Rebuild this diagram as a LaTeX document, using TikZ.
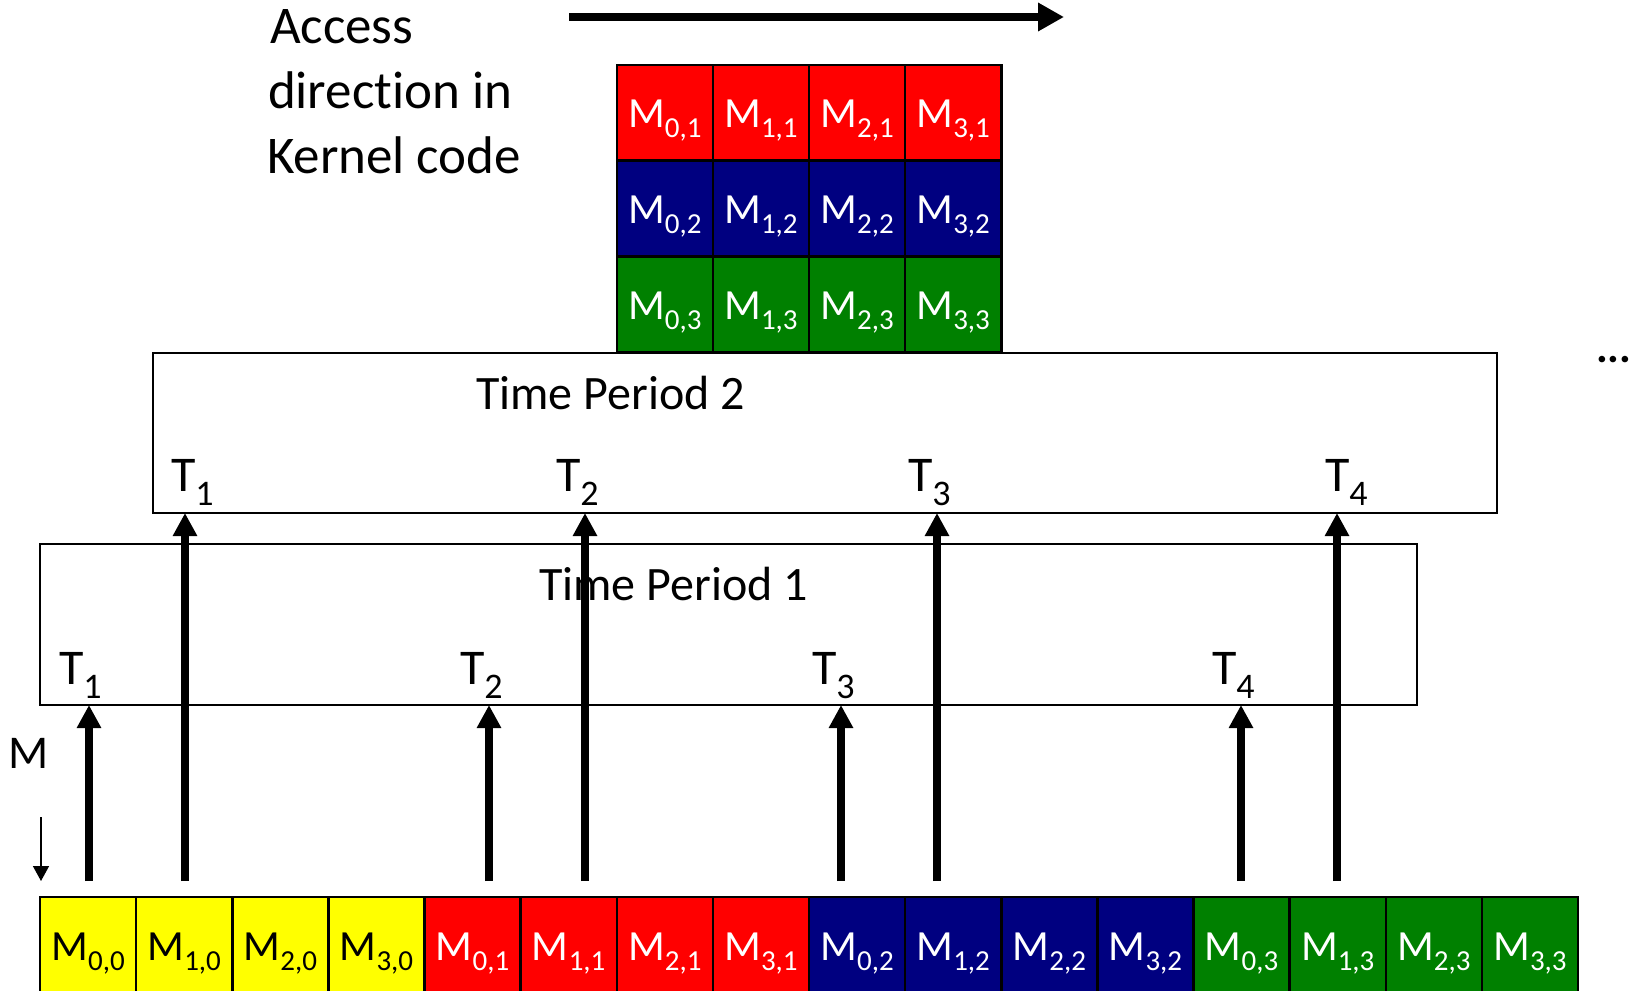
\documentclass[tikz,border=0pt]{standalone}
\usepackage{fontspec}
\setmainfont{Carlito}[Ligatures=NoCommon]
\usetikzlibrary{arrows.meta}
\definecolor{cyellow}{RGB}{255,255,0}
\definecolor{cred}{RGB}{255,0,0}
\definecolor{cblue}{RGB}{0,0,128}
\definecolor{cgreen}{RGB}{0,128,0}
\colorlet{rc0}{cyellow}
\colorlet{rc1}{cred}
\colorlet{rc2}{cblue}
\colorlet{rc3}{cgreen}
\colorlet{tc0}{black}
\colorlet{tc1}{white}
\colorlet{tc2}{white}
\colorlet{tc3}{white}
\newcommand{\msub}[1]{M\raisebox{-10pt}{\fontsize{29}{29}\selectfont #1}}
\newcommand{\tsub}[1]{T\raisebox{-14pt}{\fontsize{36}{36}\selectfont #1}}
\tikzset{
  cell/.style={draw=black, line width=2.5pt, minimum width=96.125pt, minimum height=96pt,
    inner sep=0pt, outer sep=0pt, text height=40pt, text depth=10pt,
    font=\fontsize{43}{43}\selectfont, anchor=north west},
  tpbox/.style={draw=black, line width=2.5pt, inner sep=0pt, outer sep=0pt, anchor=north west},
  bigarrow/.style={line width=8pt, -{Triangle[width=23pt,length=23pt]}},
  lbl/.style={inner sep=0pt, outer sep=0pt, anchor=base west},
  tlbl/.style={lbl, font=\fontsize{50}{50}\selectfont},
  tptext/.style={lbl, font=\fontsize{48}{48}\selectfont},
  acctext/.style={lbl, font=\fontsize{53}{53}\selectfont},
}
\begin{document}
\begin{tikzpicture}[x=1pt,y=-1pt]
\useasboundingbox (0,0) rectangle (1632,990);
\fill[white] (0,0) rectangle (1632,990);

% heading text
\node[acctext] (acc1) at (270,44) {Access};
\node[acctext] (acc2) at (268,108) {direction in};
\node[acctext] (acc3) at (267,173) {Kernel code};

% access direction arrow
\coordinate (ta) at (569,17);
\coordinate (tb) at (1064,17);
\draw[line width=8pt, -{Triangle[width=27pt,length=26pt]}] (ta) -- (tb);

% time period boxes
\node[tpbox, minimum width=1344pt, minimum height=160pt] (tp2) at (153,353) {};
\node[tpbox, minimum width=1377pt, minimum height=161pt] (tp1) at (40,544) {};

% top grid
\foreach \r in {1,2,3}{
  \foreach \c in {0,1,2,3}{
    \node[cell, minimum height=95.7pt, fill=rc\r, text=tc\r] (g\c\r) at ({40+96.125*(6+\c)},{65+95.7*(\r-1)}) {\msub{\c,\r}};
  }
}

% box texts
\node[tptext] (tp2t) at (476,409) {Time Period 2};
\node[tptext] (tp1t) at (539,600) {Time Period 1};

\node[tlbl] (t21) at (171,491) {\tsub{1}};
\node[tlbl] (t22) at (556,491) {\tsub{2}};
\node[tlbl] (t23) at (908,491) {\tsub{3}};
\node[tlbl] (t24) at (1325,491) {\tsub{4}};

\node[tlbl] (t11) at (59,684) {\tsub{1}};
\node[tlbl] (t12) at (460,684) {\tsub{2}};
\node[tlbl] (t13) at (812,684) {\tsub{3}};
\node[tlbl] (t14) at (1212,684) {\tsub{4}};

% arrows
\coordinate (s1) at (89,881);
\coordinate (s2) at (489,881);
\coordinate (s3) at (841,881);
\coordinate (s4) at (1241,881);
\coordinate (l1) at (185,881);
\coordinate (l2) at (585,881);
\coordinate (l3) at (937,881);
\coordinate (l4) at (1337,881);
\foreach \i in {1,2,3,4}{
  \draw[bigarrow] (s\i) -- (s\i |- tp1.south);
  \draw[bigarrow] (l\i) -- (l\i |- tp2.south);
}

% M label and small arrow
\node[lbl, font=\fontsize{47}{47}\selectfont] (mlbl) at (9,768) {M};
\coordinate (d1) at (41,817);
\coordinate (d2) at (41,881);
\draw[line width=1.5pt, -{Triangle[width=16pt,length=15pt]}] (d1) -- (d2);

% dots
\node[lbl, font=\fontsize{44}{44}\selectfont\bfseries] (dots) at (1596,362) {...};

% bottom row
\foreach \k in {0,...,15}{
  \pgfmathtruncatemacro{\r}{\k/4}
  \pgfmathtruncatemacro{\c}{\k-4*\r}
  \node[cell, fill=rc\r, text=tc\r] (b\k) at ({40+96.125*\k},897) {\msub{\c,\r}};
}
\end{tikzpicture}
\end{document}
